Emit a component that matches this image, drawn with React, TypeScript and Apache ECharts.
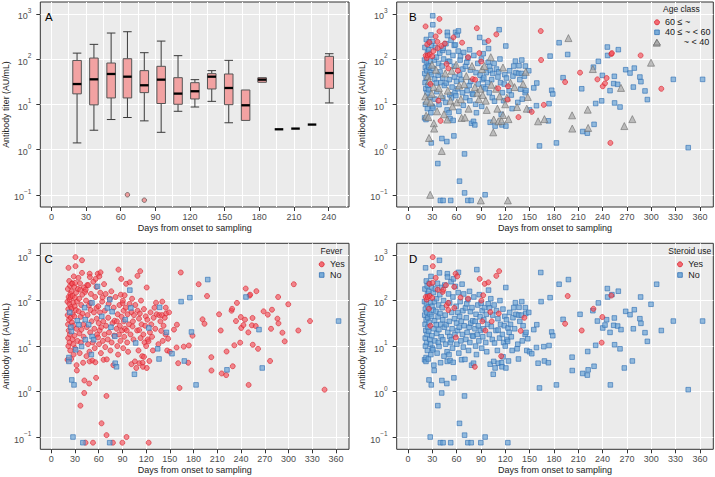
import React, { useEffect, useRef } from "react";
import * as echarts from "echarts";

// ---------- DATA ----------
const xTicksA = [0, 30, 60, 90, 120, 150, 180, 210, 240];
const xGridA = [0, 15, 30, 45, 60, 75, 90, 105, 120, 135, 150, 165, 180, 195, 210, 225, 240, 255];
const xTicksBCD = [0, 30, 60, 90, 120, 150, 180, 210, 240, 270, 300, 330, 360];
const yExponents = [-1, 0, 1, 2, 3];

// Panel A boxplots (titer, AU/mL)
const boxDays = [22.2, 36.8, 51.7, 65.8, 80.4, 95, 109.6, 124.2, 138.8, 153.5, 168.1, 182.4, 197, 211.3, 225.6, 240.5];
const boxLow = [1.4, 2.67, 4.6, 5.1, 4.3, 2.4, 7.0, 8.7, 11.6, 3.9, 4.4, 30.6, 2.8, 2.9, 3.56, 10.7];
const boxQ1 = [17, 9.7, 13.8, 13.8, 18.1, 10.4, 10, 13.1, 21.8, 9.8, 4.4, 30.6, 2.8, 2.9, 3.56, 22.5];
const boxMedian = [28, 35.6, 46.7, 40.7, 26.3, 35, 17.2, 19.4, 40.7, 22.9, 9.5, 35, 2.8, 2.9, 3.56, 49];
const boxQ3 = [93, 105, 81.6, 101.6, 55.4, 69, 38.7, 30, 47.5, 46.7, 20.7, 38.7, 2.8, 2.9, 3.56, 114.6];
const boxHigh = [135, 211, 375, 401, 138, 249, 118.6, 35, 55.4, 93.5, 20.7, 38.7, 2.8, 2.9, 3.56, 131];
const outliersA: [number, number][] = [[65.8, 0.1], [80.4, 0.076]];

// Individual samples: [day, titer, ageClass (0: 60 ≤ ~, 1: 40 ≤ ~ < 60, 2: ~ < 40), fever (1 yes), steroid (1 yes)]
const samples: [number, number, number, number, number][] = [
  [20.5, 95, 1, 1, 0], [20.6, 5.0, 1, 1, 0], [20.8, 48, 1, 1, 0], [21, 180, 1, 1, 0], [21.2, 30, 1, 1, 0],
  [21.4, 15, 2, 1, 0], [21.5, 65, 1, 1, 0], [21.6, 10, 1, 1, 0], [21.8, 525, 0, 1, 0], [22, 120, 0, 1, 1],
  [22.1, 22, 1, 1, 0], [22.3, 4.6, 1, 0, 0], [22.4, 5.6, 2, 0, 0], [22.5, 38, 1, 1, 0], [22.7, 270, 1, 1, 0],
  [22.9, 85, 1, 1, 0], [23.1, 12, 2, 1, 0], [23.2, 105, 0, 1, 1], [23.4, 55, 1, 0, 0], [23.6, 18, 1, 1, 0],
  [23.8, 210, 0, 1, 0], [24, 8, 1, 1, 0], [24.2, 140, 1, 1, 0], [24.5, 120, 0, 1, 1], [24.6, 42, 2, 1, 0],
  [24.8, 26, 1, 0, 0], [25, 72, 1, 1, 0], [25.2, 5.2, 2, 1, 0], [25.5, 21, 1, 0, 0], [25.7, 160, 1, 1, 0],
  [25.9, 66, 1, 1, 1], [26, 1.8, 2, 0, 0], [26.2, 33, 2, 1, 0], [26.4, 240, 1, 1, 0], [26.5, 234, 0, 1, 1],
  [27.5, 0.1, 2, 0, 0], [27, 126, 0, 1, 1], [27.1, 14, 1, 1, 0], [27.3, 50, 1, 1, 0], [27.7, 28, 0, 1, 1],
  [27.9, 90, 1, 1, 0], [28, 11, 2, 1, 0], [28.3, 6.5, 1, 1, 0], [28.5, 340, 1, 1, 0], [28.8, 1.4, 1, 0, 0],
  [29, 200, 1, 1, 0], [29.2, 45, 1, 1, 0], [29.5, 17, 2, 1, 0], [29.7, 75, 2, 1, 0], [30, 115, 0, 1, 1],
  [30.2, 9, 1, 1, 0], [30.4, 245, 1, 1, 1], [30.6, 903, 1, 1, 1], [30.7, 571, 1, 1, 1], [30.9, 8.3, 1, 0, 0],
  [31.2, 62, 1, 1, 0], [31.5, 150, 0, 1, 0], [31.8, 24, 2, 1, 0], [32, 3.8, 2, 1, 0], [32.4, 2.9, 2, 1, 0],
  [32.6, 95, 1, 1, 0], [33, 36, 1, 0, 0], [33.3, 13, 1, 1, 0], [33.8, 180, 1, 1, 0], [34.3, 316, 0, 1, 1],
  [34.6, 58, 2, 1, 0], [35, 29.5, 1, 0, 0], [35.3, 110, 1, 1, 0], [35.6, 19, 1, 1, 0], [36, 7, 2, 1, 0],
  [36.4, 240, 0, 1, 0], [36.7, 174, 0, 1, 1], [36.9, 0.49, 1, 1, 0], [37.2, 44, 1, 1, 0], [37.5, 12, 0, 1, 0],
  [37.9, 80, 1, 1, 0], [38.2, 23, 2, 1, 0], [38.4, 9.8, 1, 0, 0], [38.9, 770, 0, 1, 0], [38.9, 407, 0, 1, 0],
  [39.3, 135, 1, 1, 0], [39.6, 52, 1, 1, 0], [40, 0.075, 1, 0, 0], [40.3, 4.3, 0, 1, 0], [40.6, 30, 1, 1, 0],
  [41, 16, 2, 1, 0], [41.3, 195, 0, 1, 0], [41.7, 0.93, 2, 1, 0], [41.9, 1.75, 1, 1, 0], [42.2, 70, 1, 0, 0],
  [42.8, 155, 1, 1, 1], [43, 38, 1, 0, 0], [43.1, 13.8, 1, 0, 0], [43.4, 0.075, 1, 1, 0], [43.6, 174, 1, 1, 1],
  [44, 100, 1, 1, 0], [44.5, 6, 2, 1, 0], [45, 26, 1, 1, 0], [45.5, 220, 0, 1, 0], [46, 48, 2, 1, 0],
  [46.5, 11, 1, 1, 0], [46.9, 218, 1, 1, 1], [47.4, 29.5, 1, 0, 0], [47.7, 78, 0, 1, 1], [48, 1.5, 1, 1, 0],
  [48.3, 7.5, 1, 1, 0], [48.5, 4.6, 2, 1, 0], [48.6, 390, 1, 1, 0], [48.8, 330, 1, 1, 0], [49.2, 20, 2, 1, 0],
  [49.7, 89, 1, 1, 1], [49.8, 62, 0, 1, 1], [50.2, 140, 1, 1, 0], [50.7, 6.5, 1, 0, 0], [51, 35, 1, 1, 0],
  [51.5, 89, 1, 0, 0], [51.6, 16.2, 1, 0, 0], [52, 4.8, 1, 1, 0], [52.5, 12, 2, 1, 0], [52.8, 0.075, 1, 1, 0],
  [53.2, 260, 1, 1, 0], [53.6, 13.8, 1, 0, 0], [54, 55, 2, 1, 0], [54.5, 24, 1, 1, 0], [55, 9, 2, 1, 0],
  [55.5, 120, 1, 1, 0], [55.8, 4.4, 1, 1, 0], [56.2, 300, 0, 1, 0], [56.7, 2.0, 1, 1, 0], [57.1, 200, 1, 1, 1],
  [57.2, 69, 1, 1, 1], [57.5, 40, 1, 1, 0], [58, 18, 1, 1, 0], [58.5, 205, 1, 0, 0], [58.8, 390, 1, 1, 1],
  [59.1, 15.5, 1, 1, 1], [59.5, 75, 2, 1, 0], [60, 32, 1, 1, 0], [60.4, 11, 2, 1, 0], [60.8, 340, 1, 1, 1],
  [61.2, 22, 1, 1, 0], [61.6, 55, 0, 1, 0], [62, 150, 1, 1, 0], [62.3, 418, 1, 1, 0], [62.8, 7, 1, 1, 0],
  [63.2, 26, 2, 1, 0], [63.6, 0.2, 1, 1, 0], [63.9, 45, 1, 0, 0], [64.4, 95, 1, 1, 0], [64.9, 117, 1, 1, 1],
  [65.3, 13, 2, 1, 0], [65.8, 35, 1, 1, 0], [66.2, 5, 2, 1, 0], [66.8, 230, 0, 1, 0], [67.3, 18, 1, 1, 0],
  [67.8, 60, 1, 1, 0], [68.3, 9.5, 1, 1, 0], [68.8, 140, 1, 1, 0], [69.3, 28, 2, 1, 0], [69.8, 0.8, 1, 1, 0],
  [69.9, 0.11, 1, 1, 0], [70.3, 5.1, 2, 1, 0], [71, 69, 1, 0, 0], [71.5, 14, 1, 1, 0], [72, 42, 2, 1, 0],
  [72.6, 85, 1, 1, 0], [73, 20, 1, 1, 0], [73.9, 0.075, 1, 0, 0], [74, 105, 1, 0, 0], [74.2, 110, 0, 1, 1],
  [74.8, 8, 2, 1, 0], [75.5, 26, 1, 0, 0], [76, 160, 1, 1, 0], [76.4, 12, 1, 1, 0], [77, 57, 1, 0, 0],
  [77.5, 32, 1, 1, 0], [78, 0.075, 1, 1, 0], [78.5, 3.8, 1, 1, 0], [79, 70, 2, 1, 0], [79.5, 17, 1, 1, 0],
  [80, 36, 0, 1, 0], [80.4, 16.4, 1, 0, 0], [80.9, 4.2, 1, 0, 0], [81.3, 120, 1, 1, 0], [82.5, 3.5, 1, 0, 1],
  [82.6, 24, 2, 1, 0], [83, 35, 0, 1, 0], [83.5, 10, 1, 1, 0], [84, 50, 1, 1, 0], [84.5, 6.5, 1, 1, 0],
  [85, 480, 0, 1, 0], [85.6, 18, 2, 1, 0], [86.2, 80, 1, 1, 0], [86.8, 28, 1, 1, 0], [87.5, 13, 2, 1, 0],
  [88, 135, 0, 1, 0], [88.5, 300, 1, 1, 1], [89, 44, 1, 1, 0], [89.5, 22, 2, 1, 0], [89.9, 0.075, 2, 1, 0],
  [90.3, 88, 0, 1, 0], [90.6, 100, 1, 1, 1], [91, 9, 1, 1, 0], [91.5, 60, 2, 1, 0], [91.8, 35, 1, 1, 1],
  [92.3, 16, 2, 1, 0], [92.8, 131, 1, 1, 1], [93.2, 24, 1, 1, 0], [93.6, 38, 1, 0, 0], [94.2, 70, 2, 1, 0],
  [94.7, 234, 1, 1, 1], [95.2, 0.1, 1, 1, 0], [95.5, 22, 1, 1, 1], [96, 12, 2, 1, 0], [96.6, 50, 1, 1, 0],
  [97.2, 7.5, 2, 1, 0], [98.3, 30, 1, 1, 0], [99, 85, 1, 1, 0], [99.2, 252, 0, 1, 1], [99.4, 170, 1, 0, 0],
  [100.3, 18, 1, 1, 0], [100.7, 69, 1, 0, 0], [101.4, 4.0, 1, 1, 0], [101.6, 56, 1, 1, 1], [102.2, 110, 2, 1, 0],
  [102.8, 27, 2, 1, 0], [103.3, 35, 1, 1, 1], [104, 14, 1, 1, 0], [104.6, 48, 1, 1, 0], [105.2, 2.4, 2, 0, 0],
  [105.8, 4.6, 2, 1, 0], [106.3, 80, 1, 1, 0], [106.8, 11.7, 1, 0, 0], [107.5, 3.3, 1, 1, 0], [108.6, 22, 2, 1, 0],
  [109, 350, 0, 1, 1], [109.2, 60, 1, 1, 0], [110.3, 8, 2, 1, 0], [111, 40, 1, 1, 0], [111.2, 22.5, 0, 1, 0],
  [111.5, 4.2, 2, 1, 0], [112, 52, 1, 1, 1], [112.5, 444, 1, 1, 1], [113, 15, 2, 1, 0], [113.5, 100, 1, 1, 0],
  [114.2, 30, 1, 1, 0], [115, 6, 1, 1, 1], [115.5, 4.3, 2, 1, 0], [116, 3.5, 1, 1, 0], [116.5, 18, 1, 1, 0],
  [117.2, 65, 2, 1, 0], [117.3, 5.8, 2, 1, 0], [118, 12, 1, 1, 0], [118.8, 28, 1, 1, 0], [119.5, 45, 1, 1, 0],
  [120, 10, 2, 1, 0], [120.7, 194, 1, 1, 0], [120.8, 3.3, 1, 1, 0], [121.5, 38, 1, 1, 0], [122, 14, 2, 1, 0],
  [123, 12.7, 0, 1, 0], [123.2, 0.075, 2, 1, 0], [123.4, 25, 0, 0, 0], [124, 4.7, 2, 1, 0], [124.8, 20, 1, 1, 0],
  [125.5, 55, 1, 1, 0], [126.5, 30, 2, 1, 0], [127.5, 16, 1, 1, 0], [128.5, 8, 1, 1, 0], [129.5, 42, 1, 1, 0],
  [130.5, 70, 1, 1, 0], [131.5, 24, 2, 1, 0], [132.5, 90, 1, 1, 0], [133.2, 50, 1, 1, 0], [134.6, 8.7, 2, 0, 0],
  [135.5, 11, 1, 1, 0], [136.3, 5.2, 0, 0, 0], [136.5, 48, 1, 1, 0], [137, 71, 1, 0, 0], [138, 35, 1, 1, 0],
  [139, 21.6, 1, 1, 1], [140, 48, 1, 1, 0], [140.4, 95, 1, 1, 0], [141, 13, 1, 1, 0], [142, 28, 2, 1, 0],
  [143.6, 42, 1, 1, 1], [144.5, 18, 1, 1, 0], [144.8, 70, 1, 1, 0], [145.3, 52, 2, 1, 0], [145.6, 20, 1, 0, 0],
  [146.6, 8, 2, 1, 0], [147.8, 14.5, 2, 1, 0], [149, 55, 1, 1, 0], [150, 7.5, 1, 1, 0], [152.7, 6.8, 0, 0, 0],
  [155.2, 23, 1, 1, 0], [158.5, 9.3, 1, 1, 0], [158.9, 29.5, 1, 1, 0], [160.5, 4.2, 2, 1, 0], [162.2, 1.2, 1, 1, 0],
  [163.8, 415, 0, 1, 0], [164.2, 95, 0, 0, 0], [167.5, 9.7, 0, 1, 0], [168.3, 4.7, 2, 0, 0], [173.2, 4.3, 1, 1, 0],
  [174, 10.3, 1, 1, 0], [175.3, 116, 1, 0, 0], [177.3, 20.4, 1, 0, 0], [178.6, 16.9, 1, 1, 0], [183.1, 1.4, 1, 0, 0],
  [186.4, 229, 1, 1, 0], [191.3, 38.7, 1, 1, 0], [193.8, 31, 0, 1, 1], [197, 126, 1, 1, 1], [197.9, 290, 2, 0, 0],
  [202.4, 5.7, 2, 1, 0], [202.6, 2.9, 2, 1, 0], [212.2, 50, 0, 1, 0], [214.3, 22, 1, 1, 1], [215.5, 2.5, 1, 1, 0],
  [221.2, 2.3, 1, 1, 0], [221.7, 7.6, 2, 1, 0], [222.2, 3.0, 2, 0, 0], [228, 60, 2, 1, 0], [228.7, 66, 1, 1, 1],
  [229.5, 3.6, 1, 1, 0], [231.5, 10.4, 1, 1, 0], [233.6, 35.5, 0, 1, 0], [234.8, 89, 1, 1, 0], [238.9, 11.9, 1, 1, 1],
  [239.7, 43.5, 1, 1, 1], [240.2, 25, 0, 1, 0], [243, 29, 0, 1, 0], [245, 38, 0, 1, 0], [245.9, 184, 1, 1, 0],
  [246.2, 120, 1, 0, 0], [249.2, 20, 1, 1, 0], [249.6, 1.4, 0, 1, 0], [250.8, 129, 0, 1, 1], [251.5, 135, 0, 1, 0],
  [253.7, 28.6, 1, 1, 0], [254.5, 41.5, 1, 1, 0], [254.8, 10.7, 1, 1, 0], [258.6, 27.6, 1, 1, 0], [259.4, 161, 1, 1, 0],
  [261.5, 8.7, 1, 1, 0], [262.7, 23, 2, 0, 0], [266.8, 3.3, 2, 0, 0], [268.5, 58, 1, 1, 0], [273.8, 49, 1, 1, 0],
  [276.7, 4.7, 2, 1, 0], [277.9, 24, 1, 1, 0], [279.1, 63, 1, 1, 0], [286, 40, 1, 1, 0], [286.9, 120, 0, 1, 0],
  [287.3, 31.6, 1, 1, 0], [292.3, 19.7, 1, 1, 0], [295.2, 12.7, 1, 1, 0], [299.7, 83, 2, 1, 0], [306.7, 229, 2, 1, 0],
  [312.4, 22, 0, 1, 0], [327.2, 35.5, 1, 1, 0], [345.6, 1.1, 1, 1, 0], [363.3, 35.5, 1, 0, 0],
];

const ageLabels = ["60 ≤ ~", "40 ≤ ~ < 60", "~ < 40"];

// ---------- STYLE ----------
const FONT = "Liberation Sans, Arial, sans-serif";
const RED = { color: "rgba(244,78,88,0.82)", borderColor: "#d82530", borderWidth: 0.8 };
const BLUE = { color: "rgba(110,165,214,0.9)", borderColor: "#3272b5", borderWidth: 0.8 };
const GRAY = { color: "rgba(170,170,170,0.92)", borderColor: "#707070", borderWidth: 0.8 };
const CIRCLE = 5;
const SQUARE = 4.6;
const TRI = 7;

const Y_MIN = -1.27;
const Y_MAX = 3.26;
const X_MIN_A = -9.6;
const X_MAX_A = 257.6;
const X_MIN = -13.8;
const X_MAX = 376.5;
const BOX_W_DAYS = 7.4;

const grids = [
  { left: 32.3, top: 2, width: 316.7, height: 205 },
  { left: 396.7, top: 2, width: 316.6, height: 205 },
  { left: 32.3, top: 243.3, width: 316.7, height: 206 },
  { left: 396.7, top: 243.3, width: 316.6, height: 206 },
];

const lg = (v: number) => Math.log10(v);

function yAxis(gridIndex: number) {
  return {
    type: "value",
    gridIndex,
    min: Y_MIN,
    max: Y_MAX,
    name: "Antibody titer (AU/mL)",
    nameLocation: "middle",
    nameGap: 18,
    nameTextStyle: { fontSize: 8.8, color: "#1a1a1a", fontFamily: FONT },
    axisLine: { show: false, onZero: false },
    axisTick: { show: true, length: 4, lineStyle: { color: "#333", width: 1 }, customValues: yExponents },
    axisLabel: {
      customValues: yExponents,
      margin: 9,
      formatter: (v: number) => {
        const e = Math.round(v);
        return `{b|10}{s|${e < 0 ? "\u2212" + Math.abs(e) : e}}`;
      },
      rich: {
        b: { fontSize: 9, color: "#4d4d4d", fontFamily: FONT, lineHeight: 14, verticalAlign: "bottom" },
        s: { fontSize: 6.5, color: "#4d4d4d", fontFamily: FONT, lineHeight: 7, verticalAlign: "top" },
      },
    },
    splitLine: { show: true, lineStyle: { color: "#ffffff", width: 1 } },
  };
}

function xAxis(gridIndex: number, min: number, max: number, ticks: number[]) {
  return {
    type: "value",
    gridIndex,
    min,
    max,
    name: "Days from onset to sampling",
    nameLocation: "middle",
    nameGap: 16,
    nameTextStyle: { fontSize: 9, color: "#1a1a1a", fontFamily: FONT },
    axisLine: { show: false, onZero: false },
    axisTick: { show: true, length: 4, lineStyle: { color: "#333", width: 1 }, customValues: ticks },
    axisLabel: { customValues: ticks, margin: 5, fontSize: 9, color: "#4d4d4d", fontFamily: FONT },
    splitLine: { show: true, lineStyle: { color: "#ffffff", width: 1 } },
  };
}

function scatter(name: string, xi: number, yi: number, data: number[][], symbol: string, size: number, style: any, z: number) {
  return {
    type: "scatter",
    name,
    xAxisIndex: xi,
    yAxisIndex: yi,
    symbol,
    symbolSize: size,
    itemStyle: style,
    data,
    z,
    silent: true,
  };
}

function pts(filter: (s: [number, number, number, number, number]) => boolean) {
  return samples.filter(filter).map((s) => [s[0], lg(s[1])]);
}

function text(x: number, y: number, str: string, size: number, extra: any = {}) {
  return {
    type: "text",
    x,
    y,
    style: { text: str, fontSize: size, fontFamily: FONT, fill: "#1a1a1a", textVerticalAlign: "middle", ...extra },
    z: 100,
  };
}

function circle(cx: number, cy: number, st: any) {
  return { type: "circle", shape: { cx, cy, r: CIRCLE / 2 }, style: { fill: st.color, stroke: st.borderColor, lineWidth: st.borderWidth }, z: 100 };
}
function square(cx: number, cy: number, st: any) {
  return {
    type: "rect",
    shape: { x: cx - SQUARE / 2, y: cy - SQUARE / 2, width: SQUARE, height: SQUARE },
    style: { fill: st.color, stroke: st.borderColor, lineWidth: st.borderWidth },
    z: 100,
  };
}
function triangle(cx: number, cy: number, st: any) {
  const h = TRI * 0.8;
  return {
    type: "polygon",
    shape: { points: [[cx, cy - h / 2], [cx + TRI / 2, cy + h / 2], [cx - TRI / 2, cy + h / 2]] },
    style: { fill: st.color, stroke: st.borderColor, lineWidth: st.borderWidth },
    z: 100,
  };
}

export default function App() {
  const ref = useRef<HTMLDivElement>(null);
  useEffect(() => {
    if (!ref.current) return;
    const chart = echarts.init(ref.current, undefined, { renderer: "svg" });

    const boxData = boxDays.map((d, i) => [d, lg(boxLow[i]), lg(boxQ1[i]), lg(boxMedian[i]), lg(boxQ3[i]), lg(boxHigh[i])]);

    const option: any = {
      animation: false,
      textStyle: { fontFamily: FONT },
      grid: grids.map((g) => ({
        ...g,
        show: true,
        backgroundColor: "#EBEBEB",
        borderColor: "#333333",
        borderWidth: 1,
        containLabel: false,
      })),
      xAxis: [
        { ...xAxis(0, X_MIN_A, X_MAX_A, xTicksA), splitLine: { show: false } },
        {
          type: "value",
          gridIndex: 0,
          min: X_MIN_A,
          max: X_MAX_A,
          axisLine: { show: false, onZero: false },
          axisTick: { show: false, customValues: xGridA },
          axisLabel: { show: false, customValues: xGridA },
          splitLine: { show: true, lineStyle: { color: "#ffffff", width: 1 } },
        },
        xAxis(1, X_MIN, X_MAX, xTicksBCD),
        xAxis(2, X_MIN, X_MAX, xTicksBCD),
        xAxis(3, X_MIN, X_MAX, xTicksBCD),
      ],
      yAxis: [yAxis(0), yAxis(1), yAxis(2), yAxis(3)],
      series: [
        {
          type: "custom",
          name: "box",
          xAxisIndex: 0,
          yAxisIndex: 0,
          data: boxData,
          encode: { x: 0, y: [1, 2, 3, 4, 5] },
          z: 5,
          silent: true,
          renderItem: (params: any, api: any) => {
            const d = api.value(0);
            const pLo = api.coord([d, api.value(1)]);
            const pQ1 = api.coord([d, api.value(2)]);
            const pMd = api.coord([d, api.value(3)]);
            const pQ3 = api.coord([d, api.value(4)]);
            const pHi = api.coord([d, api.value(5)]);
            const w = api.size([BOX_W_DAYS, 0])[0];
            const x = pMd[0];
            const x0 = x - w / 2;
            const x1 = x + w / 2;
            const ls = { stroke: "#3a3a3a", lineWidth: 1 };
            const children: any[] = [];
            if (pLo[1] - pQ1[1] > 0.5) {
              children.push({ type: "line", shape: { x1: x, y1: pQ1[1], x2: x, y2: pLo[1] }, style: ls });
              children.push({ type: "line", shape: { x1: x0, y1: pLo[1], x2: x1, y2: pLo[1] }, style: ls });
            }
            if (pQ3[1] - pHi[1] > 0.5) {
              children.push({ type: "line", shape: { x1: x, y1: pQ3[1], x2: x, y2: pHi[1] }, style: ls });
              children.push({ type: "line", shape: { x1: x0, y1: pHi[1], x2: x1, y2: pHi[1] }, style: ls });
            }
            if (pQ1[1] - pQ3[1] > 0.5) {
              children.push({
                type: "rect",
                shape: { x: x0, y: pQ3[1], width: w, height: pQ1[1] - pQ3[1] },
                style: { fill: "#F2A2A2", stroke: "#555555", lineWidth: 1 },
              });
            }
            children.push({ type: "line", shape: { x1: x0, y1: pMd[1], x2: x1, y2: pMd[1] }, style: { stroke: "#000", lineWidth: 2.3 } });
            return { type: "group", children };
          },
        },
        scatter("outliers", 0, 0, outliersA.map((o) => [o[0], lg(o[1])]), "circle", 4.5,
          { color: "#F08A8A", borderColor: "#444", borderWidth: 0.8 }, 6),
        // Panel B: age class
        scatter(ageLabels[1], 2, 1, pts((s) => s[2] === 1), "rect", SQUARE, BLUE, 3),
        scatter(ageLabels[2], 2, 1, pts((s) => s[2] === 2), "triangle", TRI, GRAY, 4),
        scatter(ageLabels[0], 2, 1, pts((s) => s[2] === 0), "circle", CIRCLE, RED, 5),
        // Panel C: fever
        scatter("Fever Yes", 3, 2, pts((s) => s[3] === 1), "circle", CIRCLE, RED, 3),
        scatter("Fever No", 3, 2, pts((s) => s[3] === 0), "rect", SQUARE, BLUE, 4),
        // Panel D: steroid use
        scatter("Steroid No", 4, 3, pts((s) => s[4] === 0), "rect", SQUARE, BLUE, 3),
        scatter("Steroid Yes", 4, 3, pts((s) => s[4] === 1), "circle", CIRCLE, RED, 4),
      ],
      graphic: [
        text(45, 17, "A", 11.5, { fill: "#000" }),
        text(409, 17, "B", 11.5, { fill: "#000" }),
        text(44.5, 258.5, "C", 11.5, { fill: "#000" }),
        text(409, 258.5, "D", 11.5, { fill: "#000" }),
        // legend B
        text(663, 9, "Age class", 8.5),
        circle(657, 22.3, RED),
        text(665, 22.3, ageLabels[0], 9),
        square(657, 32.3, BLUE),
        text(665, 32.3, ageLabels[1], 9),
        triangle(657, 42.3, GRAY),
        text(709.3, 42.3, ageLabels[2], 9, { textAlign: "right" }),
        // legend C
        text(320.5, 250.7, "Fever", 8.5),
        circle(321.7, 264.3, RED),
        text(330, 264.3, "Yes", 9),
        square(321.7, 275, BLUE),
        text(330, 275, "No", 9),
        // legend D
        text(668.3, 250.7, "Steroid use", 8.5),
        circle(680, 264.3, RED),
        text(688.3, 264.3, "Yes", 9),
        square(680, 275, BLUE),
        text(688.3, 275, "No", 9),
      ],
    };
    chart.setOption(option);
    return () => chart.dispose();
  }, []);
  return <div ref={ref} style={{ position: "absolute", left: 0, top: 0, width: 715, height: 477, background: "#fff" }} />;
}
